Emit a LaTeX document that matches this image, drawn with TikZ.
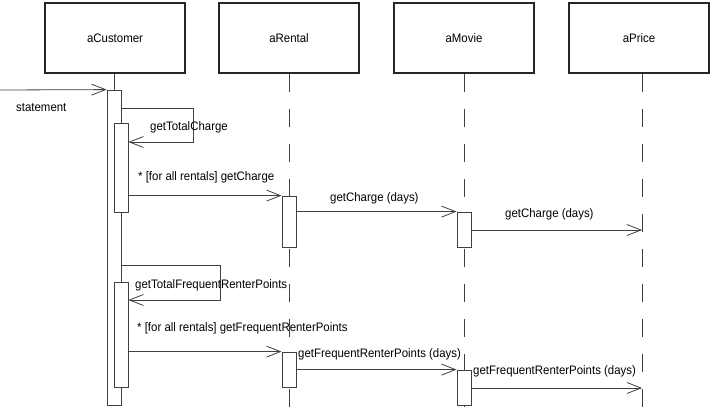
\documentclass[tikz,border=0pt]{standalone}
\usepackage{fontspec}
\setmainfont[FakeStretch=0.93]{Liberation Sans}
\usetikzlibrary{arrows.meta}
\begin{document}
\begin{tikzpicture}[x=1pt,y=-1pt,
  obj/.style={draw=black!85,line width=1.1pt,minimum width=140pt,minimum height=70pt,inner sep=0pt,font=\fontsize{12.3}{14}\selectfont},
  life/.style={draw=black!75,line width=0.8pt,dash pattern=on 18pt off 17pt},
  act/.style={draw=black!75,fill=white,line width=0.8pt,minimum width=14pt,inner sep=0pt},
  msg/.style={draw=black!75,line width=0.8pt,-{Straight Barb[length=14pt,width=11pt]}},
  lbl/.style={anchor=base west,inner sep=0pt,font=\fontsize{12.3}{14}\selectfont}]
\useasboundingbox (0,0) rectangle (713,407);
% objects
\node[obj] (cust)  at (115,38) {\raisebox{-2pt}{aCustomer}};
\node[obj] (rent)  at (289,38) {\raisebox{-2pt}{aRental}};
\node[obj] (movie) at (464,38) {\raisebox{-2pt}{aMovie}};
\node[obj] (price) at (639,38) {\raisebox{-2pt}{aPrice}};
% lifeline ends
\coordinate (custE) at (114,90);
\coordinate (rentE) at (289,407);
\coordinate (movieE) at (464,407);
\coordinate (priceE) at (642,407);
\draw[draw=black!75,line width=0.8pt] (cust.south -| custE) -- (custE);
\draw[life] (rent.south -| rentE) -- (rentE);
\draw[life] (movie.south -| movieE) -- (movieE);
\draw[life] (price.south -| priceE) -- (priceE);
% activations
\node[act,minimum height=315pt] (actC)  at (114,247.5) {};
\node[act,minimum height=89pt]  (actC1) at (121,167.5) {};
\node[act,minimum height=105pt] (actC2) at (121,334.5) {};
\node[act,minimum height=51pt]  (actR1) at (289,221.5) {};
\node[act,minimum height=35pt]  (actR2) at (289,369.5) {};
\node[act,minimum height=35pt]  (actM1) at (464,229.5) {};
\node[act,minimum height=35pt]  (actM2) at (464,387.5) {};
% helper coordinates
\coordinate (start) at (0,90);
\coordinate (p1) at (642,230);
\coordinate (p2) at (642,388);
% messages
\draw[msg] (start) -- (actC.north west);
\node[lbl] (lstat) at (16,111.5) {statement};
\draw[msg] (actC.east |- 0,108) -- (193,108) -- (193,142) -- (actC1.east |- 0,142);
\node[lbl] (ltc) at (150,130.5) {getTotalCharge};
\draw[msg] (actC1.east |- actR1.north) -- (actR1.north west);
\node[lbl] (lgc) at (138,180) {* [for all rentals] getCharge};
\draw[msg] (actR1.east |- actM1.north) -- (actM1.north west);
\node[lbl] (lgcd) at (330,201) {getCharge (days)};
\draw[msg] (actM1.east |- p1) -- (p1);
\node[lbl] (lgcd2) at (505,217.5) {getCharge (days)};
\draw[msg] (actC.east |- 0,265) -- (220,265) -- (220,300) -- (actC2.east |- 0,300);
\node[lbl] (ltfrp) at (135,288) {getTotalFrequentRenterPoints};
\draw[msg] (actC2.east |- actR2.north) -- (actR2.north west);
\node[lbl] (lfrp) at (137,331.5) {* [for all rentals] getFrequentRenterPoints};
\draw[msg] (actR2.east |- actM2.north) -- (actM2.north west);
\node[lbl] (lfrpd) at (298,357) {getFrequentRenterPoints (days)};
\draw[msg] (actM2.east |- p2) -- (p2);
\node[lbl] (lfrpd2) at (473,374.5) {getFrequentRenterPoints (days)};
\end{tikzpicture}
\end{document}
